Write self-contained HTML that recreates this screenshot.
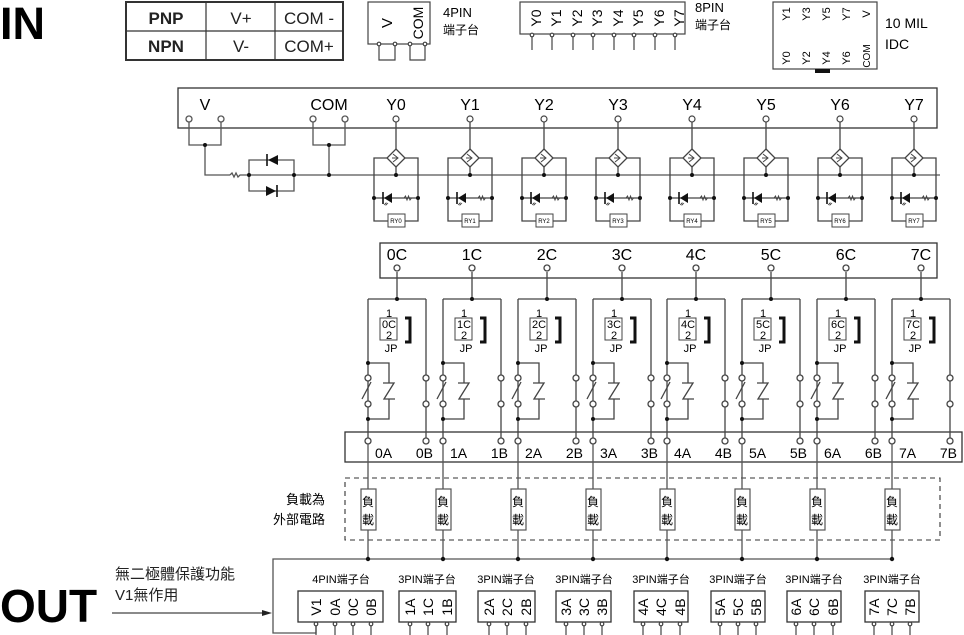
<!DOCTYPE html>
<html><head><meta charset="utf-8"><style>
html,body{margin:0;padding:0;background:#fff;}
svg{display:block;font-family:"Liberation Sans","Noto Sans CJK TC",sans-serif;}
</style></head><body>
<svg width="964" height="635" viewBox="0 0 964 635" xmlns="http://www.w3.org/2000/svg">
<defs>
  <g id="ych" fill="none" stroke="#444" stroke-width="1.3">
    <line x1="0" y1="121" x2="0" y2="149"/>
    <polygon points="0,149 9,158 0,167 -9,158" fill="#fff"/>
    <path d="M-3,154 L2,158 L-3,162 M-4,158 H2" stroke-width="1"/>
    <line x1="0" y1="167" x2="0" y2="175"/>
    <path d="M-9,158 H-22 V221 H-8 M9,221 H22 V158 H9"/>
    <rect x="-8" y="214" width="17" height="13" fill="#fff" stroke-width="1"/>
    <line x1="-22" y1="198" x2="22" y2="198"/>
    <polygon points="-4,193 -4,203 -12,198" fill="#111" stroke="none"/>
    <line x1="-13" y1="192" x2="-13" y2="204" stroke="#111" stroke-width="1.6"/>
    <path d="M8,198 l1.5,-2 l1.5,4 l1.5,-4 l1.5,4 l1.5,-2" stroke-width="1"/>
    <path d="M-12,205 l2,-2 l0,2 l2,-2" stroke-width="0.8"/>
  </g>
  <g id="ydots" fill="#111">
    <circle cx="0" cy="175" r="2"/><circle cx="-22" cy="198" r="2"/><circle cx="22" cy="198" r="2"/>
  </g>
  <g id="rel" fill="none" stroke="#444" stroke-width="1.3">
    <line x1="0" y1="272" x2="0" y2="299"/>
    <path d="M-29,299 H29"/>
    <line x1="-29" y1="299" x2="-29" y2="375"/>
    <line x1="-29" y1="381" x2="-29" y2="401"/>
    <line x1="-29" y1="407" x2="-29" y2="438"/>
    <line x1="29" y1="299" x2="29" y2="375"/>
    <line x1="29" y1="381" x2="29" y2="401"/>
    <line x1="29" y1="407" x2="29" y2="438"/>
    <rect x="-17" y="318" width="17" height="22" stroke-width="1"/>
    <path d="M8,318 H13 V342 H8" stroke="#111" stroke-width="3"/>
    <path d="M-29,363 H-8 V383 M-14,383 H-3 L-13,399 H-2 M-8,399 V419 H-29"/>
    <line x1="-35" y1="399" x2="-26" y2="382"/>
    <circle cx="-29" cy="378" r="3" fill="#fff"/><circle cx="-29" cy="404" r="3" fill="#fff"/>
    <circle cx="29" cy="378" r="3" fill="#fff"/><circle cx="29" cy="404" r="3" fill="#fff"/>
    <circle cx="29" cy="441" r="3" fill="#fff"/><circle cx="-29" cy="441" r="3" fill="#fff"/>
    <circle cx="0" cy="268" r="3" fill="#fff"/>
    <line x1="-29" y1="444" x2="-29" y2="559" stroke="#555"/>
    <rect x="-36" y="489" width="15" height="41" fill="#fff" stroke="#555" stroke-width="1.2"/>
  </g>
  <g id="reldots" fill="#111">
    <circle cx="0" cy="299" r="2"/><circle cx="-29" cy="363" r="2"/><circle cx="-29" cy="419" r="2"/><circle cx="-29" cy="559" r="2.2"/>
  </g>
  <g id="pin" stroke="#444" stroke-width="1.2" fill="#fff">
    <line x1="0" y1="625" x2="0" y2="635"/><circle cx="0" cy="624" r="1.8"/>
  </g>
</defs>

<text x="0" y="39" font-size="45" font-weight="bold">IN</text>
<text x="0" y="622" font-size="46" font-weight="bold">OUT</text>

<g stroke="#333" fill="none" stroke-width="1.2">
  <rect x="126" y="2" width="217" height="58" stroke-width="2"/>
  <line x1="126" y1="31" x2="343" y2="31"/>
  <line x1="206" y1="2" x2="206" y2="60"/>
  <line x1="275" y1="2" x2="275" y2="60"/>
</g>
<g font-size="17" text-anchor="middle" fill="#222">
  <text x="166" y="24" font-weight="bold">PNP</text><text x="166" y="52" font-weight="bold">NPN</text>
  <text x="241" y="24">V+</text><text x="241" y="52">V-</text>
  <text x="309" y="24">COM -</text><text x="309" y="52">COM+</text>
</g>

<g stroke="#444" fill="none" stroke-width="1.2">
  <rect x="368" y="2" width="62" height="42"/>
  <path d="M379,44 V60 H395 V44 M410,44 V60 H425 V44"/>
  <circle cx="379" cy="44" r="1.8" fill="#fff"/><circle cx="395" cy="44" r="1.8" fill="#fff"/>
  <circle cx="410" cy="44" r="1.8" fill="#fff"/><circle cx="425" cy="44" r="1.8" fill="#fff"/>
</g>
<text transform="translate(392,23) rotate(-90)" font-size="15" text-anchor="middle">V</text>
<text transform="translate(423,23) rotate(-90)" font-size="14" text-anchor="middle">COM</text>
<text x="443" y="17" font-size="13">4PIN</text><text x="443" y="34" font-size="12">端子台</text>

<rect x="520" y="2" width="165" height="32" fill="none" stroke="#444" stroke-width="1.2"/>
<g font-size="14" text-anchor="middle">
  <text transform="translate(536,18) rotate(-90)" dy="5">Y0</text>
  <text transform="translate(556,18) rotate(-90)" dy="5">Y1</text>
  <text transform="translate(577,18) rotate(-90)" dy="5">Y2</text>
  <text transform="translate(597,18) rotate(-90)" dy="5">Y3</text>
  <text transform="translate(618,18) rotate(-90)" dy="5">Y4</text>
  <text transform="translate(638,18) rotate(-90)" dy="5">Y5</text>
  <text transform="translate(659,18) rotate(-90)" dy="5">Y6</text>
  <text transform="translate(679,18) rotate(-90)" dy="5">Y7</text>
</g>
<g stroke="#444" stroke-width="1.2" fill="#fff">
  <line x1="532" y1="35" x2="532" y2="50"/><line x1="552" y1="35" x2="552" y2="50"/><line x1="573" y1="35" x2="573" y2="50"/><line x1="593" y1="35" x2="593" y2="50"/>
  <line x1="614" y1="35" x2="614" y2="50"/><line x1="634" y1="35" x2="634" y2="50"/><line x1="655" y1="35" x2="655" y2="50"/><line x1="675" y1="35" x2="675" y2="50"/>
  <circle cx="532" cy="35" r="1.8"/><circle cx="552" cy="35" r="1.8"/><circle cx="573" cy="35" r="1.8"/><circle cx="593" cy="35" r="1.8"/>
  <circle cx="614" cy="35" r="1.8"/><circle cx="634" cy="35" r="1.8"/><circle cx="655" cy="35" r="1.8"/><circle cx="675" cy="35" r="1.8"/>
</g>
<text x="695" y="12" font-size="13">8PIN</text><text x="695" y="29" font-size="12">端子台</text>

<rect x="773" y="2" width="104" height="67" fill="none" stroke="#444" stroke-width="1.2"/>
<rect x="815" y="69" width="15" height="4" fill="#111"/>
<g font-size="11" text-anchor="middle">
  <text transform="translate(786,14) rotate(-90)" dy="4">Y1</text>
  <text transform="translate(806,14) rotate(-90)" dy="4">Y3</text>
  <text transform="translate(826,14) rotate(-90)" dy="4">Y5</text>
  <text transform="translate(846,14) rotate(-90)" dy="4">Y7</text>
  <text transform="translate(866,14) rotate(-90)" dy="4">V</text>
  <text transform="translate(786,58) rotate(-90)" dy="4">Y0</text>
  <text transform="translate(806,58) rotate(-90)" dy="4">Y2</text>
  <text transform="translate(826,58) rotate(-90)" dy="4">Y4</text>
  <text transform="translate(846,58) rotate(-90)" dy="4">Y6</text>
  <text transform="translate(866,56) rotate(-90)" dy="4" font-size="10">COM</text>
</g>
<text x="885" y="28" font-size="14">10 MIL</text><text x="885" y="49" font-size="14">IDC</text>

<rect x="178" y="88" width="759" height="40" fill="none" stroke="#333" stroke-width="1.3"/>
<g font-size="16" text-anchor="middle">
  <text x="205" y="110">V</text><text x="329" y="110">COM</text>
  <text x="396" y="110">Y0</text><text x="470" y="110">Y1</text><text x="544" y="110">Y2</text><text x="618" y="110">Y3</text>
  <text x="692" y="110">Y4</text><text x="766" y="110">Y5</text><text x="840" y="110">Y6</text><text x="914" y="110">Y7</text>
</g>
<g fill="none" stroke="#555" stroke-width="1.3">
  <path d="M189,121 V145 H221 V121 M205,145 V175 H230 M242,175 H940"/>
  <path d="M230,175 l2,-2 l2,4 l2,-4 l2,4 l2,-2 h2"/>
  <path d="M249,175 V160 H294 V191 H249 V175"/>
  <path d="M313,121 V145 H345 V121 M329,145 V175"/>
  <circle cx="189" cy="119" r="3" fill="#fff"/><circle cx="221" cy="119" r="3" fill="#fff"/>
  <circle cx="313" cy="119" r="3" fill="#fff"/><circle cx="345" cy="119" r="3" fill="#fff"/>
</g>
<polygon points="278,155 278,165 268,160" fill="#111"/><line x1="267" y1="154" x2="267" y2="166" stroke="#111" stroke-width="1.6"/>
<polygon points="266,186 266,196 276,191" fill="#111"/><line x1="277" y1="185" x2="277" y2="197" stroke="#111" stroke-width="1.6"/>
<g fill="#111"><circle cx="205" cy="145" r="2"/><circle cx="249" cy="175" r="2"/><circle cx="294" cy="175" r="2"/><circle cx="329" cy="145" r="2"/><circle cx="329" cy="175" r="2"/></g>

<use href="#ych" x="396"/><use href="#ych" x="470"/><use href="#ych" x="544"/><use href="#ych" x="618"/>
<use href="#ych" x="692"/><use href="#ych" x="766"/><use href="#ych" x="840"/><use href="#ych" x="914"/>
<g fill="#fff" stroke="#444" stroke-width="1.2">
  <circle cx="396" cy="119" r="3"/><circle cx="470" cy="119" r="3"/><circle cx="544" cy="119" r="3"/><circle cx="618" cy="119" r="3"/>
  <circle cx="692" cy="119" r="3"/><circle cx="766" cy="119" r="3"/><circle cx="840" cy="119" r="3"/><circle cx="914" cy="119" r="3"/>
</g>
<use href="#ydots" x="396"/><use href="#ydots" x="470"/><use href="#ydots" x="544"/><use href="#ydots" x="618"/>
<use href="#ydots" x="692"/><use href="#ydots" x="766"/><use href="#ydots" x="840"/><use href="#ydots" x="914"/>
<g font-size="6" text-anchor="middle">
  <text x="396" y="223">RY0</text><text x="470" y="223">RY1</text><text x="544" y="223">RY2</text><text x="618" y="223">RY3</text>
  <text x="692" y="223">RY4</text><text x="766" y="223">RY5</text><text x="840" y="223">RY6</text><text x="914" y="223">RY7</text>
</g>

<rect x="380" y="243" width="557" height="35" fill="none" stroke="#333" stroke-width="1.3"/>
<rect x="345" y="432" width="617" height="30" fill="none" stroke="#333" stroke-width="1.3"/>
<rect x="345" y="478" width="595" height="62" fill="none" stroke="#333" stroke-width="1.1" stroke-dasharray="5,4"/>
<path d="M316,622 V633 H273 V559 H892" fill="none" stroke="#555" stroke-width="1.3"/>

<use href="#rel" x="397"/><use href="#rel" x="472"/><use href="#rel" x="547"/><use href="#rel" x="622"/>
<use href="#rel" x="696"/><use href="#rel" x="771"/><use href="#rel" x="846"/><use href="#rel" x="921"/>
<use href="#reldots" x="397"/><use href="#reldots" x="472"/><use href="#reldots" x="547"/><use href="#reldots" x="622"/>
<use href="#reldots" x="696"/><use href="#reldots" x="771"/><use href="#reldots" x="846"/><use href="#reldots" x="921"/>

<g font-size="16" text-anchor="middle">
  <text x="397" y="260">0C</text><text x="472" y="260">1C</text><text x="547" y="260">2C</text><text x="622" y="260">3C</text>
  <text x="696" y="260">4C</text><text x="771" y="260">5C</text><text x="846" y="260">6C</text><text x="921" y="260">7C</text>
</g>
<g font-size="11" text-anchor="middle">
  <text x="389" y="317">1</text><text x="389" y="328">0C</text><text x="389" y="339">2</text><text x="391" y="352">JP</text>
  <text x="464" y="317">1</text><text x="464" y="328">1C</text><text x="464" y="339">2</text><text x="466" y="352">JP</text>
  <text x="539" y="317">1</text><text x="539" y="328">2C</text><text x="539" y="339">2</text><text x="541" y="352">JP</text>
  <text x="614" y="317">1</text><text x="614" y="328">3C</text><text x="614" y="339">2</text><text x="616" y="352">JP</text>
  <text x="688" y="317">1</text><text x="688" y="328">4C</text><text x="688" y="339">2</text><text x="690" y="352">JP</text>
  <text x="763" y="317">1</text><text x="763" y="328">5C</text><text x="763" y="339">2</text><text x="765" y="352">JP</text>
  <text x="838" y="317">1</text><text x="838" y="328">6C</text><text x="838" y="339">2</text><text x="840" y="352">JP</text>
  <text x="913" y="317">1</text><text x="913" y="328">7C</text><text x="913" y="339">2</text><text x="915" y="352">JP</text>
</g>
<g font-size="14">
  <text x="375" y="458">0A</text><text x="450" y="458">1A</text><text x="525" y="458">2A</text><text x="600" y="458">3A</text>
  <text x="674" y="458">4A</text><text x="749" y="458">5A</text><text x="824" y="458">6A</text><text x="899" y="458">7A</text>
</g>
<g font-size="14" text-anchor="end">
  <text x="433" y="458">0B</text><text x="508" y="458">1B</text><text x="583" y="458">2B</text><text x="658" y="458">3B</text>
  <text x="732" y="458">4B</text><text x="807" y="458">5B</text><text x="882" y="458">6B</text><text x="957" y="458">7B</text>
</g>
<g font-size="12" text-anchor="middle">
  <text x="368" y="506">負</text><text x="368" y="524">載</text>
  <text x="443" y="506">負</text><text x="443" y="524">載</text>
  <text x="518" y="506">負</text><text x="518" y="524">載</text>
  <text x="593" y="506">負</text><text x="593" y="524">載</text>
  <text x="667" y="506">負</text><text x="667" y="524">載</text>
  <text x="742" y="506">負</text><text x="742" y="524">載</text>
  <text x="817" y="506">負</text><text x="817" y="524">載</text>
  <text x="892" y="506">負</text><text x="892" y="524">載</text>
</g>
<text x="325" y="504" font-size="13" text-anchor="end">負載為</text>
<text x="325" y="524" font-size="13" text-anchor="end">外部電路</text>

<text x="115" y="579" font-size="15" fill="#222">無二極體保護功能</text>
<text x="115" y="600" font-size="15" fill="#222">V1無作用</text>
<line x1="112" y1="613" x2="262" y2="613" stroke="#444" stroke-width="1.2"/>
<polygon points="262,610 272,613 262,616" fill="#222"/>

<g fill="none" stroke="#333" stroke-width="1.3">
  <rect x="298" y="591" width="85" height="31"/>
  <rect x="399" y="591" width="57" height="31"/><rect x="478" y="591" width="57" height="31"/>
  <rect x="556" y="591" width="55" height="31"/><rect x="634" y="591" width="54" height="31"/>
  <rect x="711" y="591" width="54" height="31"/><rect x="787" y="591" width="54" height="31"/>
  <rect x="865" y="591" width="54" height="31"/>
</g>
<g font-size="11" text-anchor="middle">
  <text x="341" y="583">4PIN端子台</text>
  <text x="427" y="583">3PIN端子台</text><text x="506" y="583">3PIN端子台</text><text x="584" y="583">3PIN端子台</text>
  <text x="661" y="583">3PIN端子台</text><text x="738" y="583">3PIN端子台</text><text x="814" y="583">3PIN端子台</text>
  <text x="892" y="583">3PIN端子台</text>
</g>
<g font-size="14" text-anchor="middle">
  <text transform="translate(316,607) rotate(-90)" dy="5">V1</text>
  <text transform="translate(335,607) rotate(-90)" dy="5">0A</text>
  <text transform="translate(353,607) rotate(-90)" dy="5">0C</text>
  <text transform="translate(371,607) rotate(-90)" dy="5">0B</text>
  <text transform="translate(410,607) rotate(-90)" dy="5">1A</text>
  <text transform="translate(428,607) rotate(-90)" dy="5">1C</text>
  <text transform="translate(447,607) rotate(-90)" dy="5">1B</text>
  <text transform="translate(489,607) rotate(-90)" dy="5">2A</text>
  <text transform="translate(507,607) rotate(-90)" dy="5">2C</text>
  <text transform="translate(526,607) rotate(-90)" dy="5">2B</text>
  <text transform="translate(566,607) rotate(-90)" dy="5">3A</text>
  <text transform="translate(584,607) rotate(-90)" dy="5">3C</text>
  <text transform="translate(602,607) rotate(-90)" dy="5">3B</text>
  <text transform="translate(643,607) rotate(-90)" dy="5">4A</text>
  <text transform="translate(661,607) rotate(-90)" dy="5">4C</text>
  <text transform="translate(680,607) rotate(-90)" dy="5">4B</text>
  <text transform="translate(720,607) rotate(-90)" dy="5">5A</text>
  <text transform="translate(738,607) rotate(-90)" dy="5">5C</text>
  <text transform="translate(756,607) rotate(-90)" dy="5">5B</text>
  <text transform="translate(796,607) rotate(-90)" dy="5">6A</text>
  <text transform="translate(814,607) rotate(-90)" dy="5">6C</text>
  <text transform="translate(833,607) rotate(-90)" dy="5">6B</text>
  <text transform="translate(874,607) rotate(-90)" dy="5">7A</text>
  <text transform="translate(892,607) rotate(-90)" dy="5">7C</text>
  <text transform="translate(910,607) rotate(-90)" dy="5">7B</text>
</g>
<use href="#pin" x="335"/><use href="#pin" x="353"/><use href="#pin" x="371"/><use href="#pin" x="316"/>
<use href="#pin" x="410"/><use href="#pin" x="428"/><use href="#pin" x="447"/>
<use href="#pin" x="489"/><use href="#pin" x="507"/><use href="#pin" x="526"/>
<use href="#pin" x="566"/><use href="#pin" x="584"/><use href="#pin" x="602"/>
<use href="#pin" x="643"/><use href="#pin" x="661"/><use href="#pin" x="680"/>
<use href="#pin" x="720"/><use href="#pin" x="738"/><use href="#pin" x="756"/>
<use href="#pin" x="796"/><use href="#pin" x="814"/><use href="#pin" x="833"/>
<use href="#pin" x="874"/><use href="#pin" x="892"/><use href="#pin" x="910"/>
</svg>
</body></html>
